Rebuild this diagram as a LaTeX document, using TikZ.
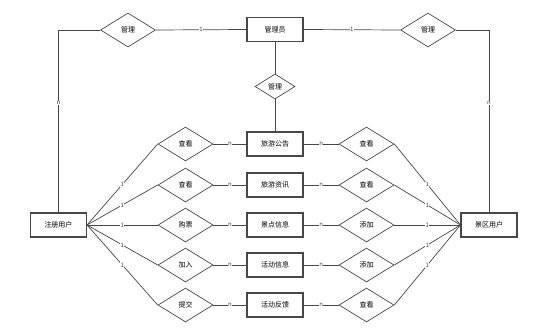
\documentclass[tikz,border=0pt]{standalone}
\usepackage{fontspec}
\newfontfamily\cjk{Noto Sans CJK SC}
\usetikzlibrary{shapes.geometric}
\definecolor{erline}{HTML}{474747}

\begin{document}
\begin{tikzpicture}[x=1pt,y=-1pt,font=\cjk\fontsize{7}{8}\selectfont,
  entity/.style={draw=erline,line width=1.1pt,minimum width=56pt,minimum height=24pt,inner sep=1pt},
  relation/.style={draw=erline,line width=0.7pt,diamond,inner sep=0pt,minimum width=55pt,minimum height=34pt},
  card/.style={fill=white,inner sep=0.4pt,font=\cjk\fontsize{6}{6}\selectfont},
  link/.style={erline,line width=0.7pt}]
  \useasboundingbox (0,0) rectangle (536,332);
  % top: administrator and its relations
  \node[entity] (admin) at (275,29.5) {管理员};
  \node[relation] (mgrL) at (128,30) {管理};
  \node[relation] (mgrR) at (428,30) {管理};
  \node[relation,minimum width=40pt,minimum height=25pt] (mgrM) at (275,86.5) {管理};
  % the two user kinds
  \node[entity] (reg) at (58.5,225) {注册用户};
  \node[entity] (sce) at (489,225) {景区用户};
  \draw[link] (mgrL.east) -- (admin.west) node[midway,card] {1};
  \draw[link] (admin.east) -- (mgrR.west) node[midway,card] {1};
  \draw[link] (mgrL.west) -| (reg.north) node[pos=0.7,card] {n};
  \draw[link] (mgrR.east) -| (sce.north) node[pos=0.7,card] {n};
  \draw[link] (admin.south) -- (mgrM.north);
  % middle column: entities with their left and right relations
  \foreach \y/\ent/\lrel/\rrel [count=\i] in {144/旅游公告/查看/查看,185/旅游资讯/查看/查看,225/景点信息/购票/添加,265/活动信息/加入/添加,305/活动反馈/提交/查看}{
    \node[entity] (ent\i) at (275,\y) {\ent};
    \node[relation] (lrel\i) at (185.5,\y) {\lrel};
    \node[relation] (rrel\i) at (366.5,\y) {\rrel};
    \draw[link] (lrel\i.east) -- (ent\i.west) node[midway,card] {n};
    \draw[link] (ent\i.east) -- (rrel\i.west) node[midway,card] {n};
    \draw[link] (reg.east) -- (lrel\i.west) node[midway,card] {1};
    \draw[link] (rrel\i.east) -- (sce.west) node[midway,card] {1};
  }
  \draw[link] (mgrM.south) -- (ent1.north);
\end{tikzpicture}
\end{document}
